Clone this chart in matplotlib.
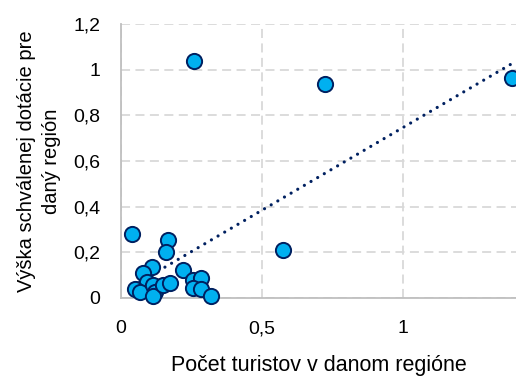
import matplotlib.pyplot as plt
import numpy as np
from matplotlib import font_manager

# podiel turistov a schválenej dotácie podľa regiónov
turisti = [0.038, 0.168, 0.158, 0.111, 0.079, 0.091, 0.050, 0.067, 0.115, 0.120,
           0.115, 0.150, 0.174, 0.221, 0.256, 0.284, 0.256, 0.284, 0.319,
           0.259, 0.723, 0.574, 1.387]
dotacie = [0.280, 0.254, 0.203, 0.137, 0.108, 0.071, 0.039, 0.028, 0.057, 0.028,
           0.009, 0.057, 0.064, 0.122, 0.079, 0.086, 0.042, 0.039, 0.009,
           1.040, 0.936, 0.210, 0.962]

x_ticks = [0, 0.5, 1]
x_labels = ['0', '0,5', '1']
y_ticks = [0, 0.2, 0.4, 0.6, 0.8, 1.0, 1.2]
y_labels = ['0', '0,2', '0,4', '0,6', '0,8', '1', '1,2']

names = {f.name for f in font_manager.fontManager.ttflist}
font = 'Liberation Sans'
for cand in ['Liberation Sans Narrow', 'Arial Narrow']:
    if cand in names:
        font = cand
        break
plt.rcParams['font.family'] = [font, 'DejaVu Sans']

fig = plt.figure(figsize=(5.16, 3.76), dpi=100)
ax = fig.add_axes([121 / 516, 1 - 298 / 376, (516 - 121) / 516, (298 - 24) / 376])

ax.set_xlim(0, 1.4)
ax.set_ylim(0, 1.2)

# lineárna trendová čiara
k, q = np.polyfit(turisti, dotacie, 1)
xs = np.array([min(turisti), max(turisti)])
ax.plot(xs, k * xs + q, color='#002060', linestyle=(0, (0.01, 2.4)), linewidth=2.3,
        dash_capstyle='round', zorder=2)

ax.scatter(turisti, dotacie, s=120, color='#00B0F0', edgecolor='#002060',
           linewidth=1.4, zorder=3, clip_on=False)

ax.set_xticks(x_ticks)
ax.set_xticklabels(x_labels)
ax.set_yticks(y_ticks)
ax.set_yticklabels(y_labels)
ax.tick_params(length=0, labelsize=14, colors='#000000')
ax.tick_params(axis='x', pad=16)
ax.tick_params(axis='y', pad=15)

ax.grid(True, color='#D9D9D9', linestyle=(0, (5, 3)), linewidth=1.3)
ax.set_axisbelow(True)
for side in ['top', 'right']:
    ax.spines[side].set_visible(False)
for side in ['left', 'bottom']:
    ax.spines[side].set_color('#BFBFBF')
    ax.spines[side].set_linewidth(1.3)

ax.set_xlabel('Počet turistov v danom regióne', fontsize=15.5, labelpad=13)
ax.set_ylabel('Výška schválenej dotácie pre\ndaný región', fontsize=14.5,
              labelpad=9, linespacing=1.35)

fig.savefig('out.png', dpi=100)
